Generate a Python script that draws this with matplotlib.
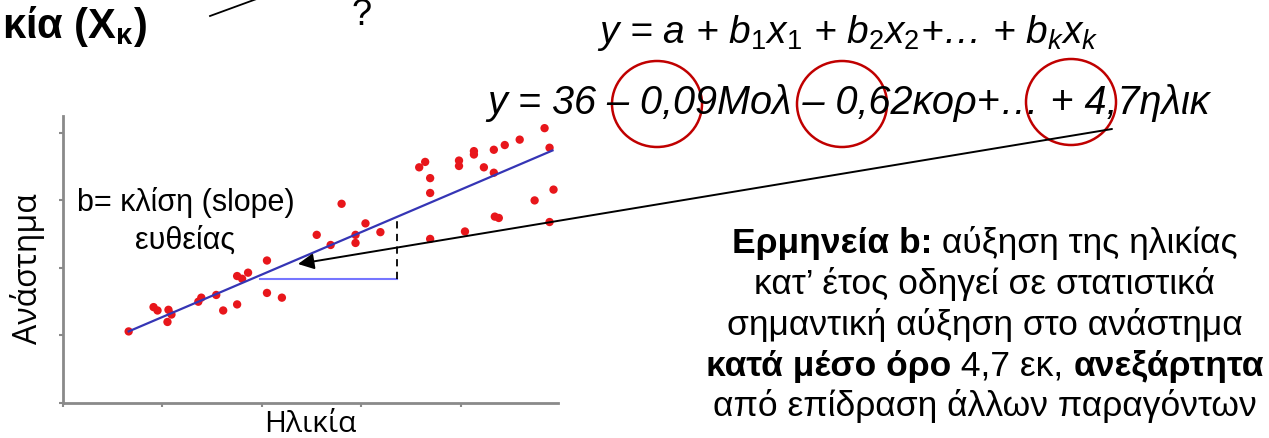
import matplotlib
matplotlib.use('Agg')
import matplotlib.pyplot as plt
from matplotlib.patches import Ellipse

plt.rcParams.update({
    'font.family': ['Liberation Sans', 'DejaVu Sans'],
    'mathtext.fontset': 'custom',
    'mathtext.rm': 'Liberation Sans',
    'mathtext.it': 'Liberation Sans:italic',
    'mathtext.bf': 'Liberation Sans:bold',
})

# height vs age sample (arbitrary units, one tick = 1)
age = [0.66, 0.91, 0.95, 1.06, 1.09, 1.05, 1.36, 1.39, 1.54, 1.61, 1.75, 1.75,
       1.80, 1.86, 2.05, 2.05, 2.20, 2.55, 2.69, 2.80, 2.94, 2.94, 3.04, 3.19,
       3.58, 3.64, 3.69, 3.69, 3.69, 3.98, 3.98, 4.04, 4.13, 4.13, 4.23, 4.33,
       4.33, 4.34, 4.38, 4.44, 4.59, 4.74, 4.84, 4.89, 4.93, 4.89]
height = [1.06, 1.42, 1.37, 1.38, 1.31, 1.20, 1.50, 1.56, 1.60, 1.37, 1.46, 1.88,
          1.84, 1.93, 2.11, 1.63, 1.56, 2.49, 2.34, 2.95, 2.49, 2.37, 2.66, 2.53,
          3.49, 3.57, 3.33, 3.11, 2.43, 3.59, 3.51, 2.54, 3.73, 3.68, 3.49, 3.75,
          3.41, 2.76, 2.74, 3.82, 3.90, 3.00, 4.07, 3.78, 3.16, 2.68]

# fitted line y = a + b x
fit_a = 0.645
fit_b = 0.629
fit_x = [0.66, 4.92]

# slope triangle: run from x0 to x1 at level y0
tri_x = [1.98, 3.36]
tri_y0 = 1.84

xticks = [0, 1, 2, 3, 4]
yticks = [0, 1, 2, 3, 4]

W, H = 1269, 439
fig = plt.figure(figsize=(W / 100, H / 100), dpi=100)

# ---- scatter panel ----
ax = fig.add_axes([63 / W, 35 / H, 495 / W, 287 / H])
ax.set_xlim(0, 4.975)
ax.set_ylim(0, 4.25)
for side in ('top', 'right'):
    ax.spines[side].set_visible(False)
for side in ('left', 'bottom'):
    ax.spines[side].set_color('#8a8a8a')
    ax.spines[side].set_linewidth(2.0)
ax.set_xticks(xticks)
ax.set_yticks(yticks)
ax.tick_params(colors='#8a8a8a', length=3, width=1.5,
               labelbottom=False, labelleft=False)

ax.scatter(age, height, s=36, color='#e8161b', edgecolors='none', zorder=3)
fit_y = [fit_a + fit_b * v for v in fit_x]
ax.plot(fit_x, fit_y, color='#3535b5', lw=1.6, zorder=4)
ax.plot(tri_x, [tri_y0, tri_y0], color='#7676ff', lw=1.5, zorder=4)
ax.plot([tri_x[1], tri_x[1]], [tri_y0, fit_a + fit_b * tri_x[1]],
        color='black', lw=1.3, ls=(0, (4, 3)), zorder=4)

axis_font = ['Open Sans', 'DejaVu Sans']
ax.set_xlabel('Ηλικία', family=axis_font, fontsize=21.5, labelpad=1)
ax.set_ylabel('Ανάστημα', family=axis_font, fontsize=23)
ax.yaxis.set_label_coords(-0.036, 0.47)

ax.text(1.23, 2.70, 'b= κλίση (slope)\nευθείας', ha='center', va='center',
        fontsize=22, linespacing=1.35)

# ---- overlay in pixel coordinates ----
ov = fig.add_axes([0, 0, 1, 1], zorder=5)
ov.set_xlim(0, W)
ov.set_ylim(H, 0)
ov.axis('off')
ov.patch.set_visible(False)

ov.text(2, 38, r'κία (X$_{\mathbf{κ}}$)', fontsize=30, fontweight='bold',
        ha='left', va='baseline')
ov.plot([210, 262], [17, -2], color='black', lw=1.3, clip_on=False)
ov.text(362, 25, '?', fontsize=26, ha='center', va='baseline')

ov.text(597, 43, r'$y$ = $a$ + $b_1x_1$ + $b_2x_2$+… + $b_kx_k$',
        fontsize=28, style='italic', ha='left', va='baseline')
ov.text(487, 114, 'y = 36 – 0,09Μολ – 0,62κορ+… + 4,7ηλικ',
        fontsize=28.5, style='italic', ha='left', va='baseline')

for cx, cy in [(657, 105), (842, 105), (1071, 103)]:
    ov.add_patch(Ellipse((cx, cy), 90, 86, fill=False,
                         edgecolor='#c00000', lw=1.8))

ov.annotate('', xy=(298, 265), xytext=(1112, 130),
            arrowprops=dict(arrowstyle='-|>', color='black', lw=1.4,
                            mutation_scale=24, shrinkA=0, shrinkB=0))

# ---- interpretation block, centred lines with bold runs ----
lines = [
    [('Ερμηνεία b:', 'bold'), (' αύξηση της ηλικίας', 'normal')],
    [('κατ’ έτος οδηγεί σε στατιστικά', 'normal')],
    [('σημαντική αύξηση στο ανάστημα', 'normal')],
    [('κατά μέσο όρο', 'bold'), (' 4,7 εκ, ', 'normal'), ('ανεξάρτητα', 'bold')],
    [('από επίδραση άλλων παραγόντων', 'normal')],
]
line_y = [253, 294, 335, 376, 416]
renderer = fig.canvas.get_renderer()
for parts, y in zip(lines, line_y):
    texts = [ov.text(0, y, s, fontsize=25.5, fontweight=w, va='baseline')
             for s, w in parts]
    widths = [t.get_window_extent(renderer).width for t in texts]
    x = 985 - sum(widths) / 2
    for t, w in zip(texts, widths):
        t.set_x(x)
        x += w

fig.savefig('out.png', dpi=100)
